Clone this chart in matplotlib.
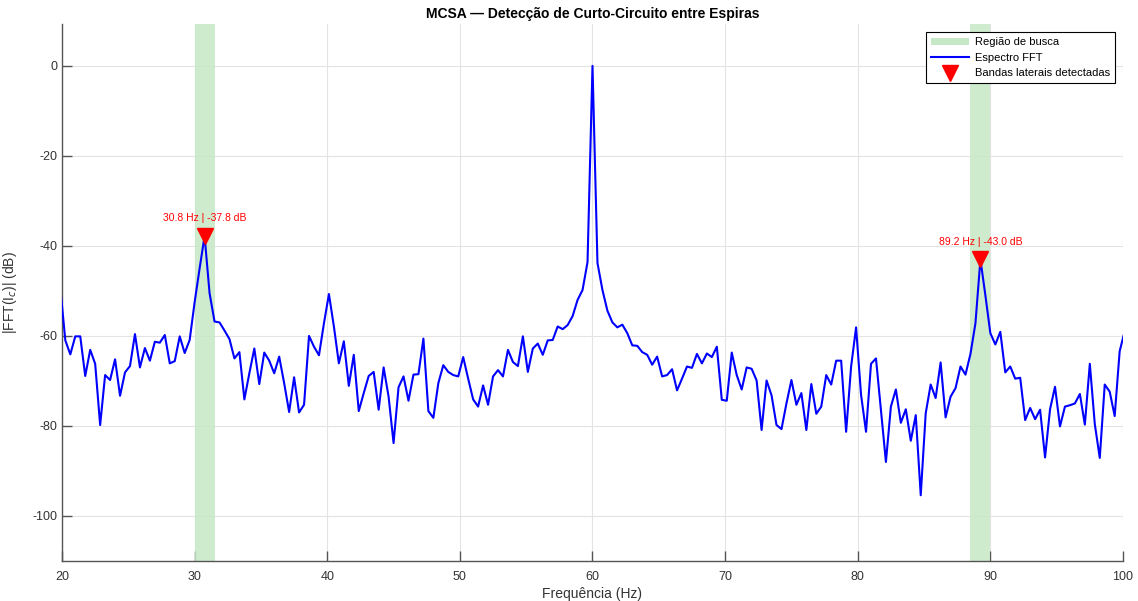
import numpy as np
import matplotlib
matplotlib.use('Agg')
import matplotlib.pyplot as plt
from matplotlib.patches import Patch
from matplotlib.lines import Line2D

plt.rcParams['font.family'] = ['Liberation Sans', 'DejaVu Sans']
plt.rcParams['axes.unicode_minus'] = False

# espectro (bins de 0.375 Hz, primeiro bin em 19.875 Hz)
f0 = 19.875
df = 0.375
mag_db = [
    -49.5, -61.0, -64.1, -60.1, -60.1, -68.9, -63.1, -66.2, -79.8, -68.7,
    -69.8, -65.2, -73.3, -68.1, -66.7, -59.6, -67.0, -62.7, -65.5, -61.3,
    -61.5, -59.8, -66.1, -65.6, -60.1, -63.8, -60.9, -52.5, -45.0, -37.8,
    -50.5, -56.8, -57.0, -58.8, -60.7, -65.0, -63.6, -74.1, -68.3, -62.8,
    -70.7, -63.7, -65.5, -68.3, -64.6, -70.5, -76.9, -69.2, -77.0, -75.3,
    -60.0, -62.4, -64.3, -57.2, -50.7, -57.9, -66.1, -61.2, -71.1, -64.2,
    -76.7, -72.7, -68.9, -68.0, -76.4, -67.0, -73.5, -83.8, -71.4, -69.0,
    -74.4, -68.6, -68.5, -60.6, -76.7, -78.2, -70.5, -66.5, -68.0, -68.7,
    -69.0, -64.7, -69.5, -74.1, -75.7, -71.0, -75.3, -69.0, -67.6, -69.0,
    -63.1, -65.8, -66.7, -60.1, -68.0, -62.8, -61.7, -64.2, -61.0, -60.9,
    -57.9, -58.5, -57.6, -55.6, -52.0, -49.8, -43.6, 0.0, -43.8, -49.8,
    -54.4, -57.0, -58.1, -57.5, -59.4, -62.1, -62.2, -63.6, -64.2, -66.4,
    -64.6, -69.0, -68.7, -67.4, -72.1, -69.5, -66.8, -67.1, -64.0, -66.1,
    -63.9, -64.7, -62.4, -74.2, -74.4, -63.7, -68.7, -71.9, -67.0, -67.3,
    -69.9, -80.9, -69.9, -73.2, -79.8, -80.7, -75.0, -69.8, -75.3, -72.7,
    -80.9, -70.7, -77.3, -75.7, -68.7, -70.8, -65.5, -65.5, -81.3, -66.8,
    -58.1, -73.1, -81.3, -66.2, -65.0, -76.4, -88.0, -75.7, -71.9, -79.3,
    -76.3, -83.3, -77.6, -95.4, -77.2, -70.8, -73.8, -65.9, -78.1, -73.5,
    -71.6, -66.8, -68.6, -64.0, -57.2, -43.0, -51.0, -59.4, -61.9, -59.1,
    -68.1, -66.8, -69.5, -69.3, -78.7, -76.0, -78.5, -76.4, -87.0, -76.3,
    -71.3, -80.1, -75.7, -75.4, -75.0, -72.9, -79.7, -66.2, -79.6, -87.1,
    -70.8, -72.4, -77.8, -63.4, -59.0,
]
freq = f0 + df * np.arange(len(mag_db))

# regioes de busca das bandas laterais
search_lo = [30.0, 88.5]
search_hi = [31.5, 90.0]

# picos detectados
peak_f = [30.75, 89.25]
peak_db = [-37.8, -43.0]

fig = plt.figure(figsize=(11.38, 6.01), dpi=100)
ax = fig.add_axes([0.0545, 0.0666, 0.9323, 0.8935])

for lo, hi in zip(search_lo, search_hi):
    ax.axvspan(lo, hi, color='#c6e8c6', alpha=0.85, lw=0, zorder=1)

ax.plot(freq, mag_db, color='blue', lw=1.5, zorder=3)

ax.plot(peak_f, peak_db, 'v', color='red', markersize=11, zorder=4)
for f, d in zip(peak_f, peak_db):
    ax.annotate('%.1f Hz | %.1f dB' % (f, d), (f, d), xytext=(0, 9),
                textcoords='offset points', ha='center', va='bottom',
                color='red', fontsize=7.5)

ax.set_xlim(20, 100)
ax.set_ylim(-110, 9.3)
ax.set_xticks(np.arange(20, 101, 10))
ax.set_yticks(np.arange(-100, 1, 20))
ax.grid(True, color='#e3e3e3', lw=0.8)
ax.set_axisbelow(True)

for s in ['top', 'right']:
    ax.spines[s].set_visible(False)
for s in ['left', 'bottom']:
    ax.spines[s].set_color('#555555')
    ax.spines[s].set_linewidth(1.0)
ax.tick_params(direction='in', length=7, width=1, color='#555555',
               labelsize=9, labelcolor='#333333')
ax.tick_params(axis='x', pad=7)
ax.tick_params(axis='y', pad=3.5)

ax.set_xlabel('Frequência (Hz)', fontsize=10, color='#333333', labelpad=3)
ax.set_ylabel('|FFT(I$_c$)| (dB)', fontsize=10, color='#333333')
ax.yaxis.set_label_coords(-0.041, 0.5)
ax.set_title('MCSA — Detecção de Curto-Circuito entre Espiras',
             fontsize=10, fontweight='bold', pad=4)

handles = [
    Patch(facecolor='#c6e8c6', edgecolor='none'),
    Line2D([], [], color='blue', lw=1.5),
    Line2D([], [], marker='v', color='red', ls='none', markersize=11),
]
labels = ['Região de busca', 'Espectro FFT', 'Bandas laterais detectadas']
leg = ax.legend(handles, labels, loc='upper right', fontsize=8,
                fancybox=False, framealpha=1, edgecolor='black',
                handlelength=3.4, borderpad=0.45, labelspacing=0.5,
                handletextpad=0.5, borderaxespad=0.75)
leg.get_frame().set_linewidth(0.8)

fig.savefig('out.png', dpi=100)
